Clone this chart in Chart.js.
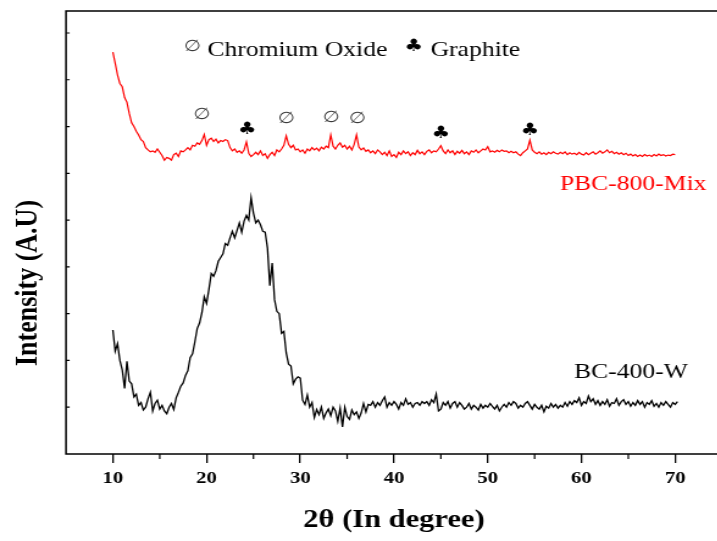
<!DOCTYPE html>
<html>
<head>
<meta charset="utf-8">
<script src="https://cdn.jsdelivr.net/npm/chart.js@4.4.0/dist/chart.umd.min.js"></script>
<style>
  html, body { margin: 0; padding: 0; background: #fff; overflow: hidden; }
  /* the source figure is stretched sideways, so the whole canvas is too */
  #wrap { position: absolute; left: 0; top: 0; transform: scaleX(1.22); transform-origin: 0 0; }
</style>
</head>
<body>
<div id="wrap"><canvas id="xrdChart" width="607" height="541"></canvas></div>
<script>
// scan grid of both patterns (degrees 2θ)
const scanStart = 10;
const scanStep = 0.25;

const xTickValues = [10, 20, 30, 40, 50, 60, 70];
const xMinorTicks = [15, 25, 35, 45, 55, 65];
const yTickValues = [100, 200, 300, 400, 500, 600, 700, 800, 900];

const seriesNames = ['PBC-800-Mix', 'BC-400-W'];

// PBC-800-Mix, 10 -> 70 deg
const pbcIntensity = [
    859, 835, 810, 792, 785, 762, 752, 728, 708, 700,
    690, 682, 672, 668, 655, 650, 646, 648, 645, 652,
    645, 638, 628, 634, 632, 628, 640, 643, 636, 648,
    646, 650, 655, 650, 660, 658, 665, 662, 670, 683,
    660, 672, 675, 668, 673, 665, 670, 668, 672, 670,
    655, 648, 652, 645, 648, 643, 650, 667, 643, 636,
    640, 645, 640, 648, 638, 642, 632, 640, 645, 638,
    650, 646, 652, 660, 680, 662, 655, 660, 650, 652,
    646, 650, 643, 652, 648, 655, 650, 654, 648, 656,
    652, 658, 655, 682, 658, 652, 660, 665, 656, 660,
    652, 658, 650, 662, 682, 656, 650, 654, 647, 650,
    644, 648, 642, 650, 646, 640, 645, 638, 648, 636,
    640, 634, 645, 640, 648, 642, 646, 638, 644, 640,
    649, 642, 646, 640, 647, 650, 644, 648, 646, 652,
    659, 648, 642, 650, 644, 648, 640, 647, 643, 649,
    642, 646, 640, 648, 645, 650, 644, 648, 652, 650,
    657, 646, 648, 645, 649, 646, 650, 647, 648, 644,
    647, 644, 646, 641, 638, 644, 648, 652, 671, 650,
    645, 642, 646, 641, 644, 640, 645, 642, 646, 643,
    641, 645, 642, 646, 640, 644, 641, 643, 640, 645,
    641, 639, 644, 640, 643, 646, 641, 644, 648, 643,
    646, 650, 644, 647, 642, 645, 641, 644, 640, 643,
    638, 641, 637, 640, 636, 639, 636, 640, 637, 639,
    636, 640, 637, 641, 638, 640, 637, 639, 638, 641,
    640
];

// BC-400-W, 10 -> 70.25 deg
const bcIntensity = [
    265, 220, 236, 200, 180, 140, 198, 156, 150, 122,
    128, 104, 110, 94, 100, 118, 132, 92, 108, 115,
    96, 104, 92, 86, 100, 108, 95, 120, 132, 145,
    152, 168, 178, 206, 214, 240, 268, 280, 302, 336,
    322, 352, 386, 380, 392, 412, 420, 428, 450, 446,
    462, 476, 462, 478, 494, 474, 498, 510, 500, 548,
    515, 494, 500, 490, 476, 474, 440, 360, 408, 330,
    305, 300, 258, 262, 216, 192, 188, 150, 160, 165,
    162, 115, 106, 126, 100, 110, 78, 95, 84, 100,
    76, 88, 96, 82, 100, 92, 70, 98, 58, 100,
    80, 74, 94, 84, 90, 76, 88, 108, 90, 106,
    104, 112, 100, 110, 104, 114, 122, 100, 110, 104,
    112, 106, 96, 110, 104, 118, 106, 110, 100, 108,
    110, 104, 112, 108, 112, 104, 116, 110, 128, 92,
    96, 110, 104, 112, 98, 108, 112, 100, 110, 104,
    96, 100, 108, 96, 104, 100, 94, 106, 98, 104,
    100, 108, 102, 96, 104, 92, 100, 106, 100, 110,
    104, 112, 108, 98, 104, 100, 108, 112, 104, 96,
    106, 100, 96, 104, 90, 102, 98, 108, 100, 106,
    98, 104, 100, 110, 102, 112, 106, 114, 110, 120,
    104, 112, 108, 124, 112, 118, 106, 114, 104, 112,
    106, 116, 102, 110, 108, 118, 104, 112, 116, 106,
    112, 102, 110, 104, 114, 106, 112, 100, 110, 106,
    114, 102, 108, 100, 110, 104, 112, 106, 100, 110,
    106, 112
];

// peak assignments
const chromiumPeaks = [19.5, 28.5, 33.3, 36.1];
const graphitePeaks = [24.35, 45.0, 54.5];

const SX = 1.22;
const serif = '"Liberation Serif", "Times New Roman", serif';

function toPoints(values) {
    return values.map((v, i) => ({ x: scanStart + i * scanStep, y: v }));
}

// frame, minor ticks, peak symbols and the texts inside the plot
const frameAndLabels = {
    id: 'frameAndLabels',
    afterDraw(chart) {
        const { ctx, chartArea: area, scales: { x, y } } = chart;
        ctx.save();
        ctx.strokeStyle = '#000';
        ctx.lineWidth = 1.5;
        ctx.strokeRect(area.left, area.top, area.right - area.left, area.bottom - area.top);

        ctx.lineWidth = 1.2;
        ctx.beginPath();
        xMinorTicks.forEach((v) => {
            const px = x.getPixelForValue(v);
            ctx.moveTo(px, area.bottom);
            ctx.lineTo(px, area.bottom + 5);
        });
        yTickValues.forEach((v) => {
            const py = y.getPixelForValue(v);
            ctx.moveTo(area.left, py);
            ctx.lineTo(area.left + 3, py);
        });
        ctx.stroke();

        const chromiumLevels = [726, 716, 719, 717];
        const graphiteLevels = [694, 685, 692];
        ctx.textAlign = 'center';
        ctx.textBaseline = 'middle';
        ctx.font = '16px "DejaVu Sans"';
        ctx.fillStyle = '#3a3a3a';
        chromiumPeaks.forEach((p, i) => {
            ctx.fillText('∅', x.getPixelForValue(p), y.getPixelForValue(chromiumLevels[i]));
        });
        ctx.fillText('∅', x.getPixelForValue(18.5), y.getPixelForValue(870));
        ctx.font = '17px "DejaVu Sans"';
        ctx.fillStyle = '#000';
        graphitePeaks.forEach((p, i) => {
            ctx.fillText('♣', x.getPixelForValue(p), y.getPixelForValue(graphiteLevels[i]));
        });
        ctx.fillText('♣', x.getPixelForValue(42.1), y.getPixelForValue(870));

        ctx.textAlign = 'left';
        ctx.textBaseline = 'alphabetic';
        ctx.font = '21px ' + serif;
        ctx.fillText('Chromium Oxide', x.getPixelForValue(20.08), y.getPixelForValue(851));
        ctx.fillText('Graphite', x.getPixelForValue(43.9), y.getPixelForValue(851));

        ctx.fillStyle = '#ff0000';
        ctx.fillText(seriesNames[0], x.getPixelForValue(57.7), y.getPixelForValue(564));
        ctx.fillStyle = '#000';
        ctx.fillText(seriesNames[1], x.getPixelForValue(59.2), y.getPixelForValue(162));

        // y axis title
        ctx.translate(28 / SX, 283);
        ctx.rotate(-Math.PI / 2);
        ctx.textAlign = 'center';
        ctx.textBaseline = 'middle';
        ctx.font = 'bold 26px ' + serif;
        ctx.fillText('Intensity (A.U)', 0, 0);
        ctx.restore();
    },
};

const ctx = document.getElementById('xrdChart').getContext('2d');
new Chart(ctx, {
    type: 'line',
    data: {
        datasets: [
            {
                label: seriesNames[0],
                data: toPoints(pbcIntensity),
                borderColor: '#ff0000',
                borderWidth: 1.2,
                pointRadius: 0,
            },
            {
                label: seriesNames[1],
                data: toPoints(bcIntensity),
                borderColor: '#000000',
                borderWidth: 1.3,
                pointRadius: 0,
            },
        ],
    },
    options: {
        responsive: false,
        animation: false,
        layout: {
            padding: { left: 0, top: 11, right: 607 - 722 / SX, bottom: 0 },
        },
        plugins: {
            legend: { display: false },
            tooltip: { enabled: false },
        },
        scales: {
            x: {
                type: 'linear',
                min: 5,
                max: 75,
                afterBuildTicks: (scale) => {
                    scale.ticks = xTickValues.map((v) => ({ value: v }));
                },
                afterFit: (scale) => {
                    scale.height = 541 - 454;
                },
                border: { display: false },
                grid: {
                    drawOnChartArea: false,
                    color: '#000',
                    lineWidth: 1.3,
                    tickLength: 9,
                },
                ticks: {
                    color: '#000',
                    padding: 5,
                    maxRotation: 0,
                    font: { family: serif, size: 17, weight: 'bold' },
                },
                title: {
                    display: true,
                    text: '2θ (In degree)',
                    color: '#000',
                    padding: { top: 0, bottom: 5 },
                    font: { family: serif, size: 25, weight: 'bold' },
                },
            },
            y: {
                min: 0,
                max: 947,
                afterFit: (scale) => {
                    scale.width = 66 / SX;
                },
                border: { display: false },
                grid: { display: false },
                ticks: { display: false },
            },
        },
    },
    plugins: [frameAndLabels],
});
</script>
</body>
</html>
